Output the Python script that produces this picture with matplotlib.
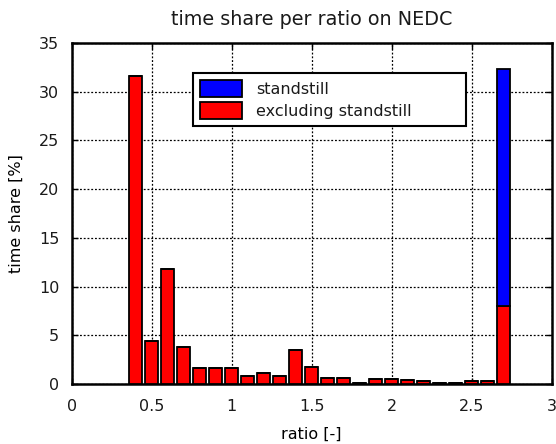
import numpy as np
import matplotlib.pyplot as plt

# ratio bins and time share per bin [%]
ratio = [0.4, 0.5, 0.6, 0.7, 0.8, 0.9, 1.0, 1.1, 1.2, 1.3, 1.4, 1.5,
         1.6, 1.7, 1.8, 1.9, 2.0, 2.1, 2.2, 2.3, 2.4, 2.5, 2.6, 2.7]
excl_standstill = [31.6, 4.4, 11.8, 3.8, 1.65, 1.65, 1.65, 0.85, 1.15, 0.85, 3.45, 1.8,
                   0.62, 0.62, 0.15, 0.47, 0.47, 0.4, 0.3, 0.15, 0.15, 0.32, 0.32, 8.0]
standstill = [0, 0, 0, 0, 0, 0, 0, 0, 0, 0, 0, 0,
              0, 0, 0, 0, 0, 0, 0, 0, 0, 0, 0, 24.3]

x_ticks = [0, 0.5, 1, 1.5, 2, 2.5, 3]
x_tick_labels = ["0", "0.5", "1", "1.5", "2", "2.5", "3"]
y_ticks = [0, 5, 10, 15, 20, 25, 30, 35]

plt.rcParams['font.family'] = ['DejaVu Sans']
plt.rcParams['font.size'] = 11.5
plt.rcParams['text.color'] = '#1a1a1a'
plt.rcParams['xtick.labelcolor'] = '#1a1a1a'
plt.rcParams['ytick.labelcolor'] = '#1a1a1a'

fig = plt.figure(figsize=(5.56, 4.44), dpi=100)
ax = fig.add_axes([0.129, 0.135, 0.863, 0.768])

ax.bar(ratio, excl_standstill, width=0.08, color='red', edgecolor='black',
       linewidth=1.3, label='excluding standstill', zorder=3)
ax.bar(ratio, standstill, width=0.08, bottom=excl_standstill, color='blue',
       edgecolor='black', linewidth=1.3, label='standstill', zorder=3)

ax.set_xlim(0, 3)
ax.set_ylim(0, 35)
ax.set_xticks(x_ticks)
ax.set_xticklabels(x_tick_labels)
ax.set_yticks(y_ticks)
ax.tick_params(axis='x', direction='in', length=4, width=1, top=True, pad=11)
ax.tick_params(axis='y', direction='in', length=4, width=1, right=True, pad=9)

ax.grid(True, color='black', linestyle=(0, (1.5, 1.5)), linewidth=0.9, zorder=0)
ax.set_axisbelow(True)
for s in ax.spines.values():
    s.set_linewidth(1.8)

handles, labels = ax.get_legend_handles_labels()
leg = ax.legend(handles[::-1], labels[::-1], loc='upper left', mode='expand',
                bbox_to_anchor=(193 / 556, 1 - 130 / 444, 273 / 556, 57 / 444),
                bbox_transform=fig.transFigure,
                borderaxespad=0, borderpad=0.45, handlelength=2.6, handleheight=1.2,
                handletextpad=0.9, labelspacing=0.35, fancybox=False, framealpha=1,
                edgecolor='black')
leg.get_frame().set_linewidth(1.5)

ax.set_title('time share per ratio on NEDC', pad=13)
ax.set_xlabel('ratio [-]', labelpad=9)
ax.set_ylabel('time share [%]', labelpad=11)

fig.savefig('out.png', dpi=100)
